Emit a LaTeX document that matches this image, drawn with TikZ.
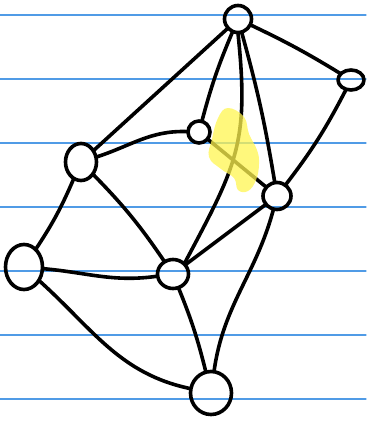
\documentclass[tikz,border=0pt]{standalone}
\usetikzlibrary{shapes.geometric}

\definecolor{ruleblue}{RGB}{80,155,230}
\definecolor{marker}{RGB}{255,245,80}

\begin{document}
\begin{tikzpicture}[
  x=1pt,y=-1pt,
  line cap=round,line join=round,
  vtx/.style={ellipse,draw=black,line width=3.6pt,inner sep=0pt,outer sep=1pt},
  edge/.style={line width=3.6pt,black},
  rule/.style={ruleblue,line width=1.2pt}
]
\useasboundingbox (0,0) rectangle (366,422);

% ---- ruled paper ----
\foreach \y in {15,79,143,207,271,335,399}{
  \draw[rule] (0,\y) -- (366,\y);
}

% ---- vertices ----
\node[vtx,minimum width=27pt,minimum height=27pt] (top)   at (238,19)  {};
\node[vtx,minimum width=26pt,minimum height=20pt] (right) at (351,80)  {};
\node[vtx,minimum width=22pt,minimum height=22pt] (mid)   at (199,132) {};
\node[vtx,minimum width=31pt,minimum height=37pt] (left)  at (81,162)  {};
\node[vtx,minimum width=28pt,minimum height=27pt] (east)  at (277,196) {};
\node[vtx,minimum width=37pt,minimum height=45pt] (far)   at (24,267)  {};
\node[vtx,minimum width=31pt,minimum height=29pt] (ctr)   at (173,274) {};
\node[vtx,minimum width=41pt,minimum height=43pt] (bot)   at (211,393) {};

% ---- edges ----
\draw[edge] (top) -- (left);
\draw[edge] (top) to[bend right=4] (mid);
\draw[edge] (top.south) to[out=-84,in=62,looseness=1.2] (ctr.north east);
\draw[edge] (top) to[bend left=3] (east);
\draw[edge] (top) to[bend left=3] (right);
\draw[edge] (right) to[bend left=5] (east);
\draw[edge] (mid) to[out=178,in=18] (left);
\draw[edge] (mid) -- (east);
\draw[edge] (left) to[bend left=5] (far);
\draw[edge] (left) to[bend left=5] (ctr);
\draw[edge] (east) -- (ctr);
\draw[edge] (east) to[out=-105,in=82] (bot);
\draw[edge] (far) to[out=-5,in=188] (ctr);
\draw[edge] (far) to[out=-42,in=168] (bot);
\draw[edge] (ctr) to[bend left=4] (bot);

% ---- highlighter stroke over the crossing ----
\fill[marker,opacity=0.75] plot[smooth cycle,tension=0.7] coordinates {
  (228,108) (244,117) (249,134) (257,150) (259,164) (256,180)
  (248,191) (238,190) (234,178) (221,169) (209,157) (212,139) (218,118)};

\end{tikzpicture}
\end{document}
